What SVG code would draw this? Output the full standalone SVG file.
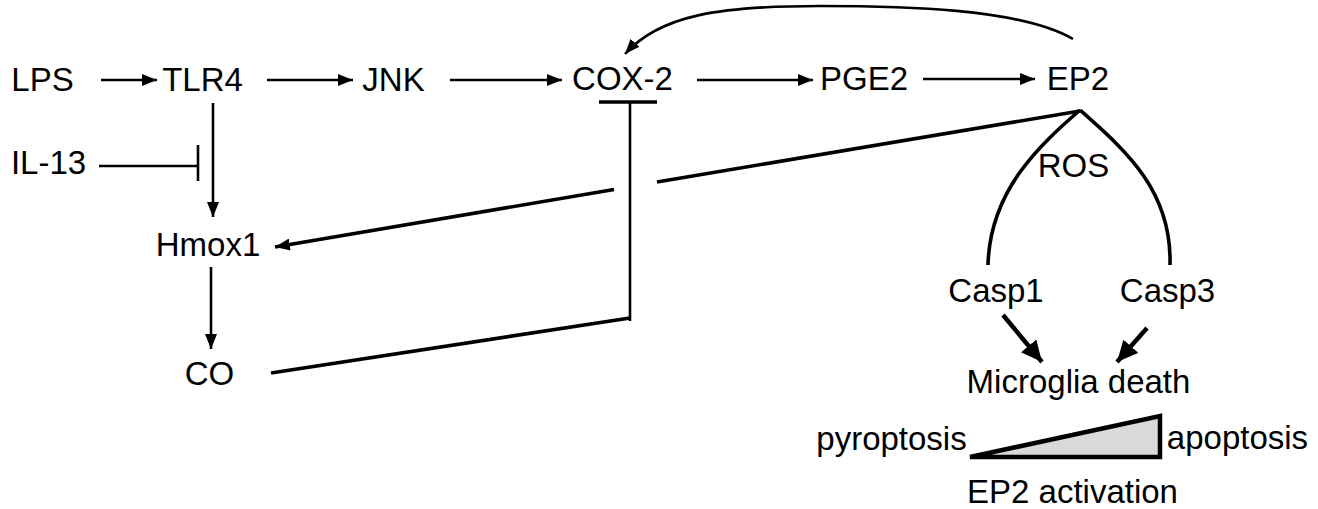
<svg xmlns="http://www.w3.org/2000/svg" width="1318" height="509" viewBox="0 0 1318 509">
<style>
text{font-family:"Liberation Sans",Arial,sans-serif;font-size:33px;fill:#000;text-anchor:middle}
.ln{stroke:#000;stroke-width:2.6;fill:none}
.th{stroke:#000;stroke-width:3.6;fill:none}
.tk{stroke:#000;stroke-width:4.5;fill:none}
</style>
<defs>
<marker id="ah" markerUnits="userSpaceOnUse" markerWidth="16" markerHeight="12" refX="15" refY="6" orient="auto"><path d="M0,0 L15,6 L0,12 Z" fill="#000"/></marker>
<marker id="ahb" markerUnits="userSpaceOnUse" markerWidth="22" markerHeight="20" refX="21" refY="10" orient="auto"><path d="M0,0 L21,10 L0,20 Z" fill="#000"/></marker>
</defs>
<rect width="1318" height="509" fill="#fff"/>
<g id="connectors">
<line class="ln" x1="101" y1="80" x2="157" y2="80" marker-end="url(#ah)"/>
<line class="ln" x1="267" y1="80" x2="353" y2="80" marker-end="url(#ah)"/>
<line class="ln" x1="450" y1="80" x2="562" y2="80" marker-end="url(#ah)"/>
<line class="ln" x1="697" y1="80" x2="813" y2="80" marker-end="url(#ah)"/>
<line class="ln" x1="923" y1="79" x2="1035" y2="79" marker-end="url(#ah)"/>
<line class="ln" x1="213" y1="103" x2="213" y2="217" marker-end="url(#ah)"/>
<line class="ln" x1="211" y1="267" x2="211" y2="349" marker-end="url(#ah)"/>
<line class="ln" x1="99" y1="166" x2="198" y2="166"/>
<line class="ln" x1="198" y1="145" x2="198" y2="181"/>
<line class="th" x1="599" y1="102" x2="657" y2="102"/>
<line class="ln" x1="630" y1="102" x2="630" y2="321"/>
<polyline class="th" points="271,373 630,318"/>
<path class="ln" d="M1073,39 C1020,8 900,6 820,6 C720,6 660,15 625,54" stroke-width="2.2" marker-end="url(#ah)"/>
<line class="th" x1="1080" y1="111" x2="657" y2="182"/>
<line class="th" x1="614" y1="189.5" x2="275" y2="247" marker-end="url(#ah)"/>
<path class="th" d="M1080,110 C1040,145 990,190 988,265"/>
<path class="th" d="M1080,110 C1125,150 1172,190 1170,265"/>
<line class="tk" x1="1003" y1="315" x2="1042" y2="362" marker-end="url(#ahb)"/>
<line class="tk" x1="1147" y1="328" x2="1117" y2="362" marker-end="url(#ahb)"/>
</g>
<g id="n-lps"><text x="42.5" y="91">LPS</text></g>
<g id="n-tlr4"><text x="202.5" y="91">TLR4</text></g>
<g id="n-jnk"><text x="393.5" y="91">JNK</text></g>
<g id="n-cox2"><text x="622.5" y="90">COX-2</text></g>
<g id="n-pge2"><text x="864" y="90">PGE2</text></g>
<g id="n-ep2"><text x="1078" y="90">EP2</text></g>
<g id="n-il13"><text x="48.5" y="174">IL-13</text></g>
<g id="n-hmox1"><text x="208" y="256">Hmox1</text></g>
<g id="n-co"><text x="209.5" y="385">CO</text></g>
<g id="n-ros"><text x="1073.5" y="177">ROS</text></g>
<g id="n-casp1"><text x="996" y="302">Casp1</text></g>
<g id="n-casp3"><text x="1167.5" y="302">Casp3</text></g>
<g id="n-death"><text x="1078.5" y="393">Microglia death</text></g>
<g id="n-gradient">
<polygon points="970,457 1160,416 1160,457" fill="#d9d9d9" stroke="#000" stroke-width="4.5" stroke-linejoin="miter"/>
<text x="891.5" y="450">pyroptosis</text>
<text x="1237.5" y="449">apoptosis</text>
<text x="1072.5" y="503">EP2 activation</text>
</g>
</svg>
